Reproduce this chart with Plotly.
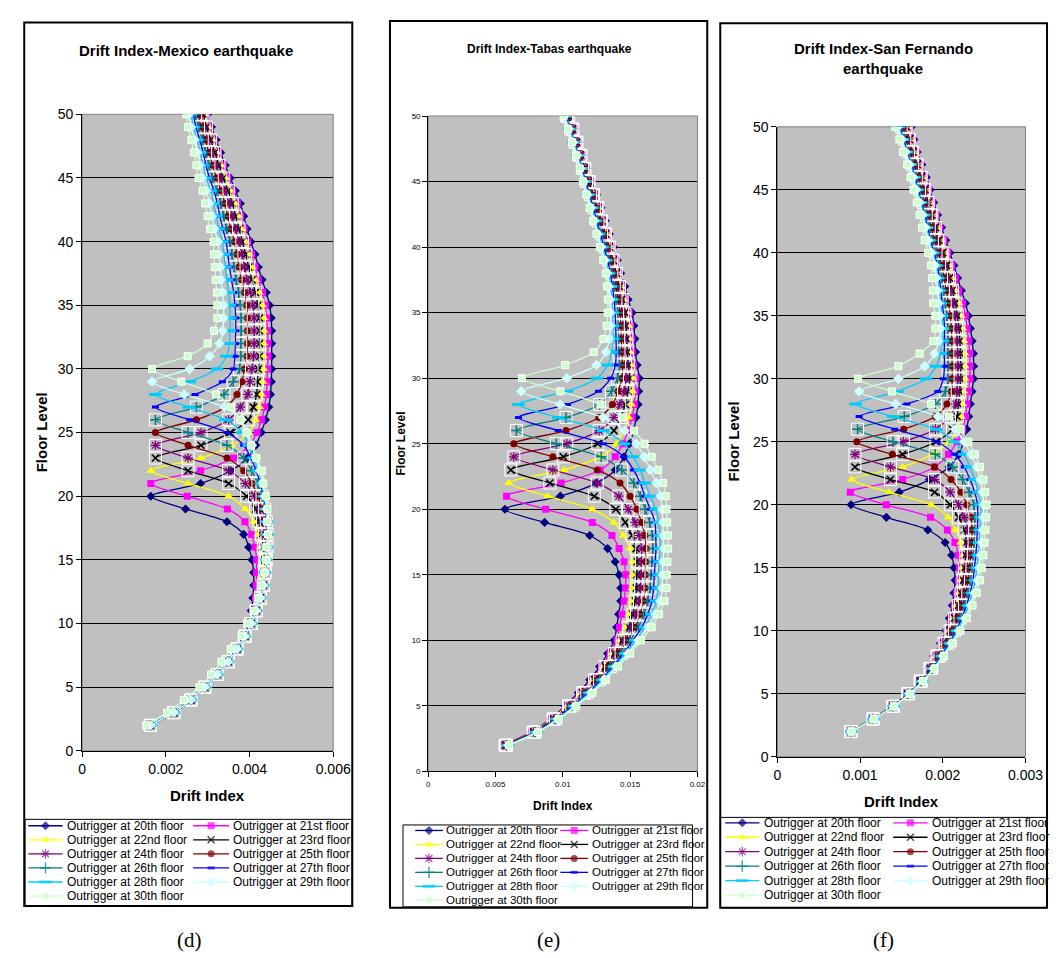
import plotly.graph_objects as go

W, H = 1058, 958
FLOORS = list(range(2, 51))
NAMES = ["Outrigger at 20th floor", "Outrigger at 21st floor", "Outrigger at 22nd floor",
         "Outrigger at 23rd floor", "Outrigger at 24th floor", "Outrigger at 25th floor",
         "Outrigger at 26th floor", "Outrigger at 27th floor", "Outrigger at 28th floor",
         "Outrigger at 29th floor", "Outrigger at 30th floor"]

# ---------------- Mexico earthquake (drift index x 1e-4), floors 2..50 ----------------
MEX_20 = [16.4, 22.0, 26.0, 29.2, 32.1, 34.6, 36.7, 38.4, 39.6, 40.4, 40.8, 41.0, 41.0, 40.6, 39.8, 38.6, 34.6, 24.7, 16.4,
          28.3, 35.5, 39.5, 41.5, 42.8, 43.8, 44.6, 45.0, 45.2, 45.3,
          45.3, 45.3, 45.3, 45.2, 44.8, 44.0, 43.0, 42.1, 41.3, 40.3,
          39.4, 38.6, 37.8, 36.6, 35.4, 34.2, 33.1, 32.0, 30.9, 30.0]
MEX_21 = [16.3, 21.9, 26.0, 29.2, 32.2, 34.8, 36.9, 38.7, 40.0, 40.9, 41.4, 41.6, 41.7, 41.7, 41.3, 40.5, 38.9, 34.7, 25.1, 16.4,
          28.3, 36.2, 40.0, 41.8, 42.9, 43.6, 44.0, 44.2, 44.3,
          44.4, 44.4, 44.3, 44.1, 43.8, 43.1, 42.1, 41.3, 40.5, 39.6,
          38.7, 37.9, 37.1, 36.0, 34.8, 33.7, 32.6, 31.5, 30.5, 29.6]
MEX_22 = [16.3, 21.9, 26.0, 29.3, 32.3, 34.9, 37.0, 38.9, 40.4, 41.6, 42.4, 43.0, 43.1, 43.0, 42.6, 42.0, 41.0, 39.0, 35.0, 25.3, 16.4,
          28.4, 35.8, 39.8, 41.5, 42.4, 42.9, 43.2, 43.4,
          43.4, 43.4, 43.5, 43.4, 43.1, 42.3, 41.4, 40.6, 39.9, 39.1,
          38.2, 37.4, 36.6, 35.5, 34.3, 33.2, 32.2, 31.2, 30.1, 29.3]
MEX_23 = [16.3, 21.9, 26.0, 29.3, 32.3, 34.9, 37.0, 38.9, 40.4, 41.6, 42.6, 43.3, 43.6, 43.6, 43.3, 42.8, 42.2, 41.5, 39.3, 35.0, 25.3, 17.5,
          28.4, 35.4, 39.7, 40.9, 41.7, 41.9, 42.1,
          42.4, 42.4, 42.4, 42.4, 42.0, 41.4, 40.6, 39.8, 39.1, 38.3,
          37.5, 36.7, 35.9, 34.9, 33.7, 32.7, 31.7, 30.7, 29.7, 28.9]
MEX_24 = [16.3, 21.9, 26.0, 29.3, 32.3, 34.9, 37.0, 38.9, 40.4, 41.6, 42.6, 43.3, 43.7, 43.9, 43.9, 43.6, 43.1, 42.4, 41.2, 39.0, 35.0, 25.3, 17.5,
          28.4, 35.0, 37.8, 39.6, 40.1, 40.6,
          41.0, 41.1, 41.1, 41.1, 40.8, 40.2, 39.4, 38.8, 38.2, 37.5,
          36.6, 35.8, 35.1, 34.1, 33.0, 32.0, 31.1, 30.1, 29.1, 28.4]
MEX_25 = [16.3, 21.9, 26.0, 29.3, 32.3, 34.9, 37.0, 38.9, 40.4, 41.6, 42.6, 43.3, 43.7, 44.0, 44.1, 44.0, 43.7, 43.0, 42.0, 40.6, 38.6, 34.6, 25.3, 17.5,
          27.3, 34.3, 37.0, 38.2, 38.8,
          39.4, 39.5, 39.5, 39.5, 39.3, 38.8, 38.1, 37.5, 37.0, 36.4,
          35.5, 34.8, 34.1, 33.2, 32.1, 31.2, 30.3, 29.4, 28.4, 27.8]
MEX_26 = [16.3, 21.9, 26.0, 29.3, 32.3, 34.9, 37.0, 38.9, 40.4, 41.6, 42.6, 43.3, 43.7, 44.0, 44.2, 44.2, 44.0, 43.6, 43.0, 42.0, 40.5, 38.6, 34.6, 25.3, 17.5,
          27.3, 33.9, 36.1, 37.6,
          37.9, 37.9, 38.0, 38.0, 37.8, 37.4, 36.8, 36.3, 35.8, 35.3,
          34.5, 33.8, 33.1, 32.2, 31.1, 30.3, 29.5, 28.7, 27.8, 27.1]
MEX_27 = [16.3, 21.9, 26.0, 29.3, 32.3, 34.9, 37.0, 38.9, 40.4, 41.6, 42.6, 43.3, 43.7, 44.0, 44.2, 44.3, 44.1, 43.8, 43.3, 42.6, 41.6, 40.3, 38.6, 34.6, 25.7, 17.5,
          27.0, 33.5, 36.1,
          36.5, 36.6, 36.7, 36.7, 36.5, 36.2, 35.7, 35.2, 34.8, 34.4,
          33.6, 32.9, 32.3, 31.5, 30.4, 29.6, 28.9, 28.1, 27.2, 26.6]
MEX_28 = [16.3, 21.9, 26.0, 29.3, 32.3, 34.9, 37.0, 38.9, 40.4, 41.6, 42.6, 43.3, 43.7, 44.0, 44.2, 44.3, 44.2, 43.9, 43.5, 42.9, 42.0, 41.0, 39.8, 38.3, 34.3, 25.5, 17.5,
          25.7, 32.2,
          34.5, 35.2, 35.3, 35.4, 35.3, 35.0, 34.6, 34.2, 33.9, 33.5,
          32.7, 32.1, 31.4, 30.7, 29.6, 28.9, 28.2, 27.5, 26.6, 26.1]
MEX_29 = [16.3, 21.9, 26.0, 29.3, 32.3, 34.9, 37.0, 38.9, 40.4, 41.6, 42.6, 43.3, 43.7, 44.0, 44.2, 44.3, 44.3, 44.1, 43.7, 43.2, 42.5, 41.6, 40.6, 39.4, 38.0, 34.0, 24.4, 16.7,
          25.7,
          30.5, 32.8, 33.6, 33.8, 33.8, 33.6, 33.2, 33.0, 32.7, 32.5,
          31.6, 31.0, 30.4, 29.7, 28.7, 28.1, 27.5, 26.8, 26.0, 25.5]
MEX_30 = [15.3, 20.3, 24.3, 28.0, 30.8, 33.3, 35.5, 38.1, 39.4, 41.1, 42.1, 42.8, 43.6, 43.9, 44.0, 44.4, 44.2, 44.3, 43.9, 43.3, 43.0, 41.6, 40.4, 39.2, 37.8, 35.6, 32.0, 23.7, 16.7,
          25.2, 30.0, 31.5, 32.3, 32.3, 32.2, 31.9, 31.7, 31.5, 31.4,
          30.6, 30.0, 29.4, 28.8, 27.8, 27.3, 26.7, 26.1, 25.3, 24.9]

# ---------------- Tabas earthquake (drift index x 1e-4) ----------------
TAB_20 = [55.8, 76.4, 90.9, 101.8, 111.5, 120, 127.3, 133.3, 138.2, 140, 141.5, 143, 143, 141.8, 138.9, 133.3, 120, 86.5, 57,
          98.2, 125, 139, 145.5, 149.5, 152.7, 154.4, 155.9, 156.4, 156.8,
          155.2, 154, 153.5, 152.7, 151.5, 148.5, 146, 143, 140.5, 137.5,
          134.5, 131.5, 128.5, 125, 121.5, 118, 115, 112, 109, 106]
TAB_21 = [56.2, 76.9, 91.5, 102.6, 112.6, 121.2, 128.7, 135, 140.2, 142, 144, 145.5, 146.5, 146.7, 145.5, 141.8, 136.5, 121.9, 87.3, 58.2,
          98.7, 127.8, 139, 144.5, 148.5, 151.5, 153.2, 153.7, 154,
          152.6, 151.5, 151.1, 150.4, 149.3, 146.7, 144.4, 141.7, 139.2, 136.3,
          133.4, 130.4, 127.5, 124.1, 120.7, 117.3, 114.4, 111.4, 108.4, 105.4]
TAB_22 = [56.6, 77.4, 92.1, 103.4, 113.6, 122.4, 130, 136.6, 142.2, 146.4, 149.1, 150.7, 151.4, 151.7, 151.9, 149.9, 144.9, 137.9, 121.9, 88.9, 59.9,
          100.9, 127.9, 140, 145.5, 149, 151, 151.8, 152.1,
          150.9, 149.9, 149.5, 148.9, 147.9, 145.5, 143.4, 140.8, 138.4, 135.5,
          132.6, 129.7, 126.8, 123.5, 120.2, 116.9, 114, 111, 108, 104.9]
TAB_23 = [57.1, 77.9, 92.7, 104.3, 114.7, 123.6, 131.4, 138.3, 144.1, 148.9, 151.9, 153.8, 154.6, 154.9, 155.2, 154.4, 151.4, 146.4, 139.4, 123.4, 90.4, 61.4,
          100.4, 126, 138, 143, 146.5, 148.5, 149.8,
          148.7, 147.9, 147.5, 146.9, 146.1, 144, 142.1, 139.7, 137.4, 134.5,
          131.7, 128.8, 126, 122.8, 119.5, 116.4, 113.5, 110.5, 107.5, 104.4]
TAB_24 = [57.5, 78.4, 93.3, 105.1, 115.7, 124.8, 132.8, 140, 146.1, 151.3, 154.7, 156.9, 157.8, 158.1, 158.4, 158.6, 156.6, 153.6, 148.6, 141.6, 125.6, 92.6, 63.6,
          103, 127, 138, 142.3, 145.5, 147,
          146.5, 145.8, 145.5, 145, 144.3, 142.5, 140.8, 138.6, 136.3, 133.5,
          130.7, 127.9, 125.1, 122, 118.9, 115.8, 113, 110, 107, 103.8]
TAB_25 = [57.9, 79, 94, 105.9, 116.8, 126, 134.2, 141.7, 148.1, 153.8, 157.5, 160, 161, 161.3, 161.6, 161.9, 161, 158.5, 155, 150, 142.5, 125.6, 92.6, 63.6,
          102.4, 126.8, 136.9, 141, 143.9,
          144.4, 143.8, 143.5, 143.1, 142.5, 141, 139.5, 137.5, 135.3, 132.5,
          129.8, 127, 124.3, 121.3, 118.3, 115.3, 112.5, 109.5, 106.5, 103.3]
TAB_26 = [58.3, 79.5, 94.6, 106.7, 117.8, 127.2, 135.5, 143.3, 150.1, 156.2, 160.3, 163.1, 164.8, 165.5, 166.2, 166.8, 166.5, 164.5, 161.2, 157.6, 152.7, 143.8, 128.5, 95.2, 65.5,
          102.4, 127.3, 136.2, 140.6,
          142.2, 141.7, 141.5, 141.2, 140.7, 139.5, 138.2, 136.4, 134.2, 131.5,
          128.8, 126.1, 123.4, 120.5, 117.6, 114.7, 112, 109, 106, 102.8]
TAB_27 = [58.7, 80, 95.2, 107.5, 118.9, 128.4, 136.9, 145, 152.1, 158.7, 163.1, 166.2, 167.4, 168, 168.6, 169.2, 169, 168.5, 165, 161, 157.5, 152.5, 145.5, 130, 96.5, 67.1,
          103.5, 126.5, 135.5,
          139, 139.7, 139.5, 139.3, 138.9, 138, 136.9, 135.3, 133.2, 130.5,
          127.9, 125.2, 122.6, 119.8, 117, 114.2, 111.5, 108.5, 105.5, 102.2]
TAB_28 = [59.2, 80.5, 95.8, 108.4, 119.9, 129.6, 138.3, 146.7, 154, 161.1, 165.9, 169.3, 170.6, 171, 171.5, 172, 171.8, 171.2, 169, 165, 161, 157.5, 152.5, 145.5, 130, 96.5, 67.1,
          103, 125.4,
          133.3, 136.5, 137.5, 137.3, 137.1, 136.5, 135.6, 134.2, 132.1, 129.5,
          126.9, 124.3, 121.7, 119, 116.3, 113.6, 111, 108, 105, 101.7]
TAB_29 = [59.6, 81, 96.4, 109.2, 121, 130.8, 139.6, 148.4, 156, 163.6, 168.7, 172.4, 173.8, 174, 174.5, 174.9, 174.7, 174.3, 173.8, 172.5, 169.5, 165, 160.5, 154.5, 146, 130, 98, 69.1,
          103,
          125, 132.1, 134.5, 135.4, 135.3, 135, 134.3, 133.1, 131.1, 128.5,
          125.9, 123.4, 120.9, 118.3, 115.6, 113.1, 110.5, 107.5, 104.5, 101.1]
TAB_30 = [60, 81.5, 97, 110, 122, 132, 141, 150, 158, 166, 171.5, 175.5, 177, 177.2, 177.7, 178.2, 178, 177.5, 177, 176.5, 174.5, 170.9, 166, 160.7, 152.9, 144, 128, 98.2, 69.6,
          101.8, 122.9, 130.1, 132.5, 133.3, 133.5, 133, 132, 130, 127.5,
          125, 122.5, 120, 117.5, 115, 112.5, 110, 107, 104, 100.6]

# ---------------- San Fernando earthquake (drift index x 1e-5) ----------------
SF_20 = [88.5, 115, 139, 156.5, 171, 182, 189, 197, 203.6, 208, 211.5, 213.5, 215, 213.5, 210.7, 202.8, 181.9, 131.7, 89,
         147.4, 183.8, 207.6, 219.4, 225, 229, 231.3, 233.3, 235.3, 237.3,
         237.3, 237, 235.5, 233.3, 231, 227.5, 222.5, 218, 213.5, 208.5,
         203.6, 198.5, 193.7, 189, 184.6, 180, 174.5, 169, 165, 162]
SF_21 = [88.6, 115.2, 139.2, 156.9, 171.5, 182.8, 190.3, 198.5, 205.4, 210.1, 214, 216.7, 218.9, 220, 218.7, 214.7, 205.5, 185.1, 131.7, 88.1,
         151.4, 190, 206.8, 217.1, 224, 227.4, 229.2, 231.1, 232.9,
         232.9, 232.6, 231.3, 229.4, 227.3, 224, 219.4, 215.2, 211, 206.1,
         201.3, 196.4, 191.7, 187.2, 182.8, 178.3, 172.9, 167.5, 163.4, 160.2]
SF_22 = [88.7, 115.3, 139.4, 157.2, 172, 183.6, 191.5, 200, 207.1, 212.2, 216.4, 219.4, 221.8, 223.4, 224.6, 221.5, 215.5, 206.5, 186, 135, 89.7,
         151.4, 187, 207.7, 218.7, 222.3, 223.8, 225.4, 227,
         227, 226.7, 225.7, 224.2, 222.3, 219.3, 215.3, 211.5, 207.7, 202.9,
         198.2, 193.6, 189.1, 184.7, 180.4, 176, 170.8, 165.5, 161.3, 157.9]
SF_23 = [88.8, 115.5, 139.6, 157.6, 172.5, 184.4, 192.8, 201.5, 208.9, 214.4, 218.9, 222.1, 224.7, 226.4, 227.7, 228.5, 226, 219, 209, 190, 136.7, 93.7,
         151.4, 191.8, 211.7, 217.5, 218.9, 220.3, 221.6,
         221.6, 221.3, 220.6, 219.4, 217.7, 215, 211.5, 208.1, 204.7, 200,
         195.4, 191, 186.8, 182.4, 178.2, 173.9, 168.9, 163.6, 159.4, 155.8]
SF_24 = [88.9, 115.6, 139.8, 157.9, 173, 185.2, 194, 203, 210.7, 216.5, 221.3, 224.8, 227.6, 229.3, 230.7, 231.6, 230.7, 226, 219, 209, 190, 136.7, 93.7,
         152.2, 191.1, 208, 215.7, 217, 218.2,
         218.2, 217.9, 217.4, 216.4, 214.8, 212.3, 209, 205.9, 202.7, 198.2,
         193.6, 189.3, 185.2, 181, 176.8, 172.6, 167.7, 162.4, 158.2, 154.4]
SF_25 = [89, 115.8, 140, 158.3, 173.5, 186, 195.3, 204.5, 212.5, 218.6, 223.8, 227.5, 230.6, 232.3, 233.8, 234.8, 235.3, 234, 229, 222, 210, 190, 139, 96,
         152.8, 191, 205, 210.4, 211.3,
         211.3, 211, 210.9, 210.4, 209, 206.8, 204.2, 201.6, 198.9, 194.5,
         190, 186, 182.2, 178.1, 173.9, 169.9, 165.2, 160.1, 155.7, 151.7]
SF_26 = [89.1, 115.9, 140.2, 158.6, 174, 186.8, 196.5, 206, 214.2, 220.7, 226.2, 230.2, 233.5, 235.3, 236.9, 237.9, 238.5, 238.9, 237.5, 232, 224, 212, 190.9, 139.9, 96.9,
         153.5, 191, 203, 206.4,
         206.4, 206.1, 206.2, 206, 204.9, 202.9, 200.8, 198.5, 196.1, 191.8,
         187.5, 183.7, 180, 176.1, 171.9, 168, 163.5, 158.4, 154, 149.7]
SF_27 = [89.2, 116.1, 140.4, 159, 174.5, 187.6, 197.8, 207.5, 216, 222.8, 228.7, 232.9, 236.4, 238.2, 239.9, 241.1, 241.8, 242.3, 242, 238.5, 233, 226, 214, 192.8, 141.8, 98.8,
         156.5, 194, 200.5,
         202, 201.7, 202, 202.1, 201.1, 199.4, 197.7, 195.7, 193.6, 189.4,
         185.2, 181.6, 178.1, 174.2, 170.1, 166.3, 161.9, 156.9, 152.4, 148]
SF_28 = [89.3, 116.2, 140.6, 159.3, 175, 188.4, 199, 209, 217.8, 225, 231.1, 235.6, 239.3, 241.2, 243, 244.2, 245, 245.7, 245.5, 243, 238.5, 233, 226, 214, 192, 140, 94.8,
         145, 180,
         192, 197.5, 199.7, 200, 199, 197.5, 195.9, 194.1, 192.2, 188.1,
         183.9, 180.4, 177, 173.2, 169.1, 165.4, 161, 156.1, 151.5, 147]
SF_29 = [89.4, 116.4, 140.8, 159.7, 175.5, 189.2, 200.3, 210.5, 219.5, 227.1, 233.6, 238.3, 242.2, 244.1, 246, 247.4, 248.3, 249.1, 249.5, 248, 245.5, 241, 234, 226, 215, 194, 143, 98.8,
         146.3,
         178, 190, 195, 197.4, 196.6, 195.1, 193.9, 192.3, 190.6, 186.5,
         182.4, 179, 175.7, 172, 167.9, 164.2, 160, 155.1, 150.5, 145.8]
SF_30 = [89.5, 116.5, 141, 160, 176, 190, 201.5, 212, 221.3, 229.2, 236, 241, 245.1, 247.1, 249.1, 250.5, 251.5, 252.5, 253, 251.1, 249.1, 245, 239, 231, 221.6, 207.6, 185.8, 138.4, 97.6,
         146.3, 172, 188.6, 191, 191, 188.5, 188, 187, 185.9, 182,
         178, 175, 172, 168.5, 164.5, 161, 157, 152, 147.5, 142.5]

MEX = [MEX_20, MEX_21, MEX_22, MEX_23, MEX_24, MEX_25, MEX_26, MEX_27, MEX_28, MEX_29, MEX_30]
TAB = [TAB_20, TAB_21, TAB_22, TAB_23, TAB_24, TAB_25, TAB_26, TAB_27, TAB_28, TAB_29, TAB_30]
SF = [SF_20, SF_21, SF_22, SF_23, SF_24, SF_25, SF_26, SF_27, SF_28, SF_29, SF_30]
for grp in (MEX, TAB, SF):
    for arr in grp:
        assert len(arr) == len(FLOORS), len(arr)

TITLES = ["Drift Index-Mexico earthquake", "Drift Index-Tabas earthquake",
          "Drift Index-San Fernando", "earthquake"]
XTICKS_D = [0, 0.002, 0.004, 0.006]
XTICKS_E = [0, 0.005, 0.01, 0.015, 0.02]
XTICKS_F = [0, 0.001, 0.002, 0.003]
XLABELS_D = ["0", "0.002", "0.004", "0.006"]
XLABELS_E = ["0", "0.005", "0.01", "0.015", "0.02"]
XLABELS_F = ["0", "0.001", "0.002", "0.003"]
YTICKS = list(range(0, 51, 5))

# ---------------- styles ----------------
STYLE = [
    dict(color="#000080", symbol="diamond", size=7, lw=0),
    dict(color="#FF00FF", symbol="square", size=7, lw=0),
    dict(color="#FFFF00", symbol="triangle-up", size=8, lw=0),
    dict(color="#000000", symbol="x-thin-open", size=7, lw=1.5, box=True),
    dict(color="#800080", symbol="asterisk-open", size=8, lw=1.2, box=True),
    dict(color="#800000", symbol="circle", size=7, lw=0),
    dict(color="#008080", symbol="cross-thin-open", size=8, lw=1.5, box=True),
    dict(color="#0000FF", symbol="line-ew-open", size=5, lw=3),
    dict(color="#00CCFF", symbol="line-ew-open", size=9, lw=3),
    dict(color="#CCFFFF", symbol="diamond", size=8, lw=0),
    dict(color="#CCFFCC", symbol="square", size=7, lw=1, edge="white"),
]
SANS = "Liberation Sans, Arial, sans-serif"
NARROW = "Liberation Sans Narrow, Arial Narrow, Liberation Sans, sans-serif"

def fx(p):
    return p / W

def fy(p):
    return 1 - p / H

PANELS = [
    dict(data=MEX, unit=1e-4, xpx=(71.7, 328), ypx=(100, 747.3), xr=[0, 0.006], tv=XTICKS_D, tt=XLABELS_D,
         tickfont=14, fam=SANS, frame=(12.5, 6.5, 347.5, 905),
         titles=[(TITLES[0], 177.5, 35, 15)], ylab=(31, 423, 15), xlab=(200, 793, 15), cap=("(d)", 181),
         leg=dict(box=(13.3, 817, 347.3, 905), y0=823.5, dy=14.3,
                  cols=((16.7, 51.7, 54.3), (185, 221.7, 223.3)), font=12, fam=SANS)),
    dict(data=TAB, unit=1e-4, xpx=(425, 700), ypx=(101.7, 768.3), xr=[0, 0.02], tv=XTICKS_E, tt=XLABELS_E,
         tickfont=8, fam=NARROW, frame=(386, 5, 710, 907),
         titles=[(TITLES[1], 548.7, 33.3, 12)], ylab=(397, 435, 12), xlab=(563, 803, 12), cap=("(e)", 548),
         leg=dict(box=(399.3, 822.7, 695, 906), y0=828.3, dy=14.2,
                  cols=((411.7, 440, 441.5), (560, 588.3, 589.8)), font=11.5, fam=NARROW)),
    dict(data=SF, unit=1e-5, xpx=(781.7, 1035), ypx=(112.7, 753.3), xr=[0, 0.003], tv=XTICKS_F, tt=XLABELS_F,
         tickfont=14, fam=SANS, frame=(723.3, 7.3, 1057, 907),
         titles=[(TITLES[2], 890, 33.3, 15), (TITLES[3], 890, 53.3, 15)], ylab=(737, 433, 15), xlab=(908, 799, 15),
         cap=("(f)", 890),
         leg=dict(box=(723.3, 815, 1057, 907), y0=820.5, dy=14.7,
                  cols=((728.3, 763.3, 766), (900, 935, 937)), font=12, fam=SANS)),
]

fig = go.Figure()
shapes = []
annotations = []
layout = {}

for i, p in enumerate(PANELS):
    k = "" if i == 0 else str(i + 1)
    xa, ya = "x" + k, "y" + k
    for arr, st, name in zip(p["data"], STYLE, NAMES):
        xs = [v * p["unit"] for v in arr]
        mk = dict(symbol=st["symbol"], size=st["size"], color=st["color"],
                  line=dict(width=st["lw"], color=st.get("edge", st["color"])))
        fig.add_trace(go.Scatter(x=xs, y=FLOORS, mode="lines+markers", name=name,
                                 line=dict(color=st["color"], width=1.3, shape="spline", smoothing=0.8),
                                 marker=mk, xaxis=xa, yaxis=ya, showlegend=False, hoverinfo="skip"))
        if st.get("box"):
            fig.add_trace(go.Scatter(x=xs, y=FLOORS, mode="markers", showlegend=False, hoverinfo="skip",
                                     marker=dict(symbol="square-open", size=12, color="white",
                                                 line=dict(width=1, color="white")),
                                     xaxis=xa, yaxis=ya))
    layout["xaxis" + k] = dict(domain=[fx(p["xpx"][0]), fx(p["xpx"][1])], range=p["xr"], anchor=ya,
                               tickvals=p["tv"], ticktext=p["tt"], showgrid=False, zeroline=False,
                               showline=True, linecolor="black", linewidth=1, ticks="outside",
                               ticklen=5, tickcolor="black",
                               tickfont=dict(family=p["fam"], size=p["tickfont"], color="black"),
                               fixedrange=True)
    layout["yaxis" + k] = dict(domain=[fy(p["ypx"][1]), fy(p["ypx"][0])], range=[0, 50], anchor=xa,
                               tickvals=YTICKS, showgrid=True, gridcolor="black", gridwidth=1,
                               zeroline=False, showline=True, linecolor="black", linewidth=1,
                               ticks="outside", ticklen=5, tickcolor="black",
                               tickfont=dict(family=p["fam"], size=p["tickfont"], color="black"),
                               fixedrange=True)
    shapes.append(dict(type="rect", xref=xa + " domain", yref=ya + " domain", x0=0, x1=1, y0=0, y1=1,
                       fillcolor="#C0C0C0", line=dict(color="#808080", width=1), layer="below"))
    f = p["frame"]
    shapes.append(dict(type="rect", xref="paper", yref="paper", x0=fx(f[0]), x1=fx(f[2]), y0=fy(f[3]), y1=fy(f[1]),
                       line=dict(color="black", width=2), fillcolor="rgba(0,0,0,0)", layer="above"))
    for (txt, tx, tyy, ts) in p["titles"]:
        annotations.append(dict(text="<b>%s</b>" % txt, x=fx(tx), y=fy(tyy), xref="paper", yref="paper",
                                showarrow=False, xanchor="center", yanchor="middle",
                                font=dict(family=p["fam"] if i == 1 else SANS, size=ts, color="black")))
    lx, lyy, ls = p["ylab"]
    annotations.append(dict(text="<b>Floor Level</b>", x=fx(lx), y=fy(lyy), xref="paper", yref="paper",
                            showarrow=False, textangle=-90, xanchor="center", yanchor="middle",
                            font=dict(family=SANS, size=ls, color="black")))
    lx, lyy, ls = p["xlab"]
    annotations.append(dict(text="<b>Drift Index</b>", x=fx(lx), y=fy(lyy), xref="paper", yref="paper",
                            showarrow=False, xanchor="center", yanchor="middle",
                            font=dict(family=SANS, size=ls, color="black")))
    annotations.append(dict(text=p["cap"][0], x=fx(p["cap"][1]), y=fy(940), xref="paper", yref="paper",
                            showarrow=False, xanchor="center", yanchor="middle",
                            font=dict(family="Liberation Serif, Times New Roman, serif", size=21, color="black")))
    lg = p["leg"]
    b = lg["box"]
    shapes.append(dict(type="rect", xref="paper", yref="paper", x0=fx(b[0]), x1=fx(b[2]), y0=fy(b[3]), y1=fy(b[1]),
                       line=dict(color="black", width=1), fillcolor="white", layer="below"))
    for s, (st, name) in enumerate(zip(STYLE, NAMES)):
        row, col = divmod(s, 2)
        x0, x1, xt = lg["cols"][col]
        yy = lg["y0"] + row * lg["dy"]
        fig.add_trace(go.Scatter(x=[x0, (x0 + x1) / 2, x1], y=[yy, yy, yy], mode="lines+markers",
                                 line=dict(color=st["color"], width=1.3),
                                 marker=dict(symbol=st["symbol"], size=[0, st["size"], 0], color=st["color"],
                                             line=dict(width=st["lw"], color=st.get("edge", st["color"]))),
                                 xaxis="x4", yaxis="y4", showlegend=False, hoverinfo="skip"))
        annotations.append(dict(text=name, x=fx(xt), y=fy(yy), xref="paper", yref="paper", showarrow=False,
                                xanchor="left", yanchor="middle",
                                font=dict(family=lg["fam"], size=lg["font"], color="black")))

layout["xaxis4"] = dict(domain=[0, 1], range=[0, W], anchor="y4", visible=False, fixedrange=True)
layout["yaxis4"] = dict(domain=[0, 1], range=[H, 0], anchor="x4", visible=False, fixedrange=True)

fig.update_layout(**layout)
fig.update_layout(width=W, height=H, margin=dict(l=0, r=0, t=0, b=0), paper_bgcolor="white",
                  plot_bgcolor="rgba(0,0,0,0)", showlegend=False, hovermode=False,
                  shapes=shapes, annotations=annotations)
fig.write_html("out.html")
